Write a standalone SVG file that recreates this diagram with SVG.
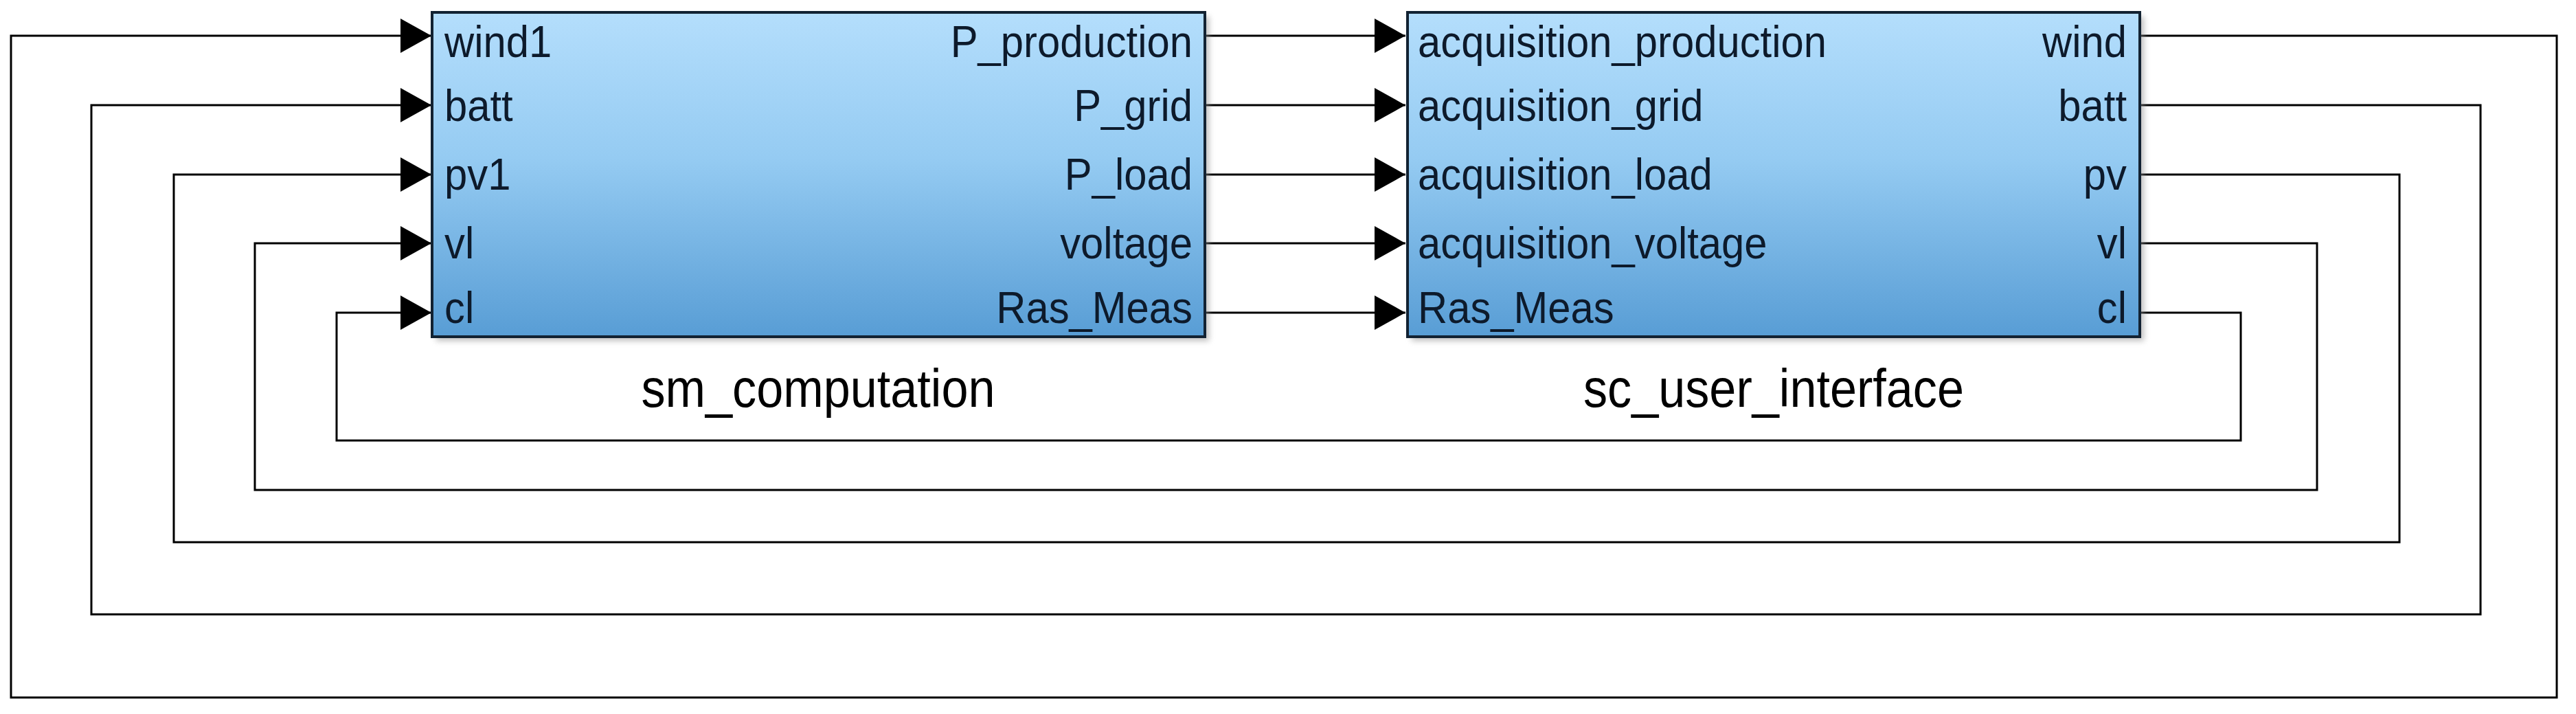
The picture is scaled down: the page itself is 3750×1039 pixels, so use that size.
<svg xmlns="http://www.w3.org/2000/svg" width="3750" height="1039" viewBox="0 0 3750 1039">
<style>
.wire{fill:none;stroke:#000;stroke-width:3;marker-end:url(#arr)}
.blk{fill:url(#blue);stroke:#122232;stroke-width:4}
.shd{fill:#8a8a8a;opacity:0.55;filter:url(#blur)}
.port{font-family:"Liberation Sans",Arial,sans-serif;font-size:65px;fill:#0d1a2b}
.end{text-anchor:end}
.name{font-family:"Liberation Sans",Arial,sans-serif;font-size:78px;fill:#000;text-anchor:middle}
</style>
<defs>
<linearGradient id="blue" x1="0" y1="0" x2="0" y2="1">
<stop offset="0" stop-color="#b4defc"/>
<stop offset="0.45" stop-color="#95cbf2"/>
<stop offset="1" stop-color="#589dd5"/>
</linearGradient>
<filter id="blur" x="-5%" y="-5%" width="110%" height="110%"><feGaussianBlur stdDeviation="4"/></filter>
<marker id="arr" markerUnits="userSpaceOnUse" markerWidth="50" markerHeight="56" refX="45" refY="28" orient="auto" viewBox="0 0 50 56">
<path d="M0,3 L45,28 L0,53 z" fill="#000"/>
</marker>
</defs>
<rect width="3750" height="1039" fill="#fff"/>
<g id="connectors">
<path class="wire" d="M1754,52 H2046"/>
<path class="wire" d="M1754,153 H2046"/>
<path class="wire" d="M1754,254 H2046"/>
<path class="wire" d="M1754,354 H2046"/>
<path class="wire" d="M1754,455 H2046"/>
<path class="wire" d="M3115,52 H3722 V1015 H16 V52 H628"/>
<path class="wire" d="M3115,153 H3611 V894 H133 V153 H628"/>
<path class="wire" d="M3115,254 H3493 V789 H253 V254 H628"/>
<path class="wire" d="M3115,354 H3373 V713 H371 V354 H628"/>
<path class="wire" d="M3115,455 H3262 V641 H490 V455 H628"/>
</g>
<g id="sm_computation">
<rect class="shd" x="635" y="24" width="1125" height="472"/>
<rect class="blk" x="629" y="18" width="1125" height="472"/>
<text class="port" transform="translate(647,83) scale(0.92,1)">wind1</text>
<text class="port" transform="translate(647,176) scale(0.92,1)">batt</text>
<text class="port" transform="translate(647,276) scale(0.92,1)">pv1</text>
<text class="port" transform="translate(647,376) scale(0.92,1)">vl</text>
<text class="port" transform="translate(647,470) scale(0.92,1)">cl</text>
<text class="port end" transform="translate(1736,83) scale(0.92,1)">P_production</text>
<text class="port end" transform="translate(1736,176) scale(0.92,1)">P_grid</text>
<text class="port end" transform="translate(1736,276) scale(0.92,1)">P_load</text>
<text class="port end" transform="translate(1736,376) scale(0.92,1)">voltage</text>
<text class="port end" transform="translate(1736,470) scale(0.92,1)">Ras_Meas</text>
<text class="name" transform="translate(1191,592) scale(0.9,1)">sm_computation</text>
</g>
<g id="sc_user_interface">
<rect class="shd" x="2055" y="24" width="1066" height="472"/>
<rect class="blk" x="2049" y="18" width="1066" height="472"/>
<text class="port" transform="translate(2064,83) scale(0.92,1)">acquisition_production</text>
<text class="port" transform="translate(2064,176) scale(0.92,1)">acquisition_grid</text>
<text class="port" transform="translate(2064,276) scale(0.92,1)">acquisition_load</text>
<text class="port" transform="translate(2064,376) scale(0.92,1)">acquisition_voltage</text>
<text class="port" transform="translate(2064,470) scale(0.92,1)">Ras_Meas</text>
<text class="port end" transform="translate(3096,83) scale(0.92,1)">wind</text>
<text class="port end" transform="translate(3096,176) scale(0.92,1)">batt</text>
<text class="port end" transform="translate(3096,276) scale(0.92,1)">pv</text>
<text class="port end" transform="translate(3096,376) scale(0.92,1)">vl</text>
<text class="port end" transform="translate(3096,470) scale(0.92,1)">cl</text>
<text class="name" transform="translate(2582,592) scale(0.9,1)">sc_user_interface</text>
</g>
</svg>
